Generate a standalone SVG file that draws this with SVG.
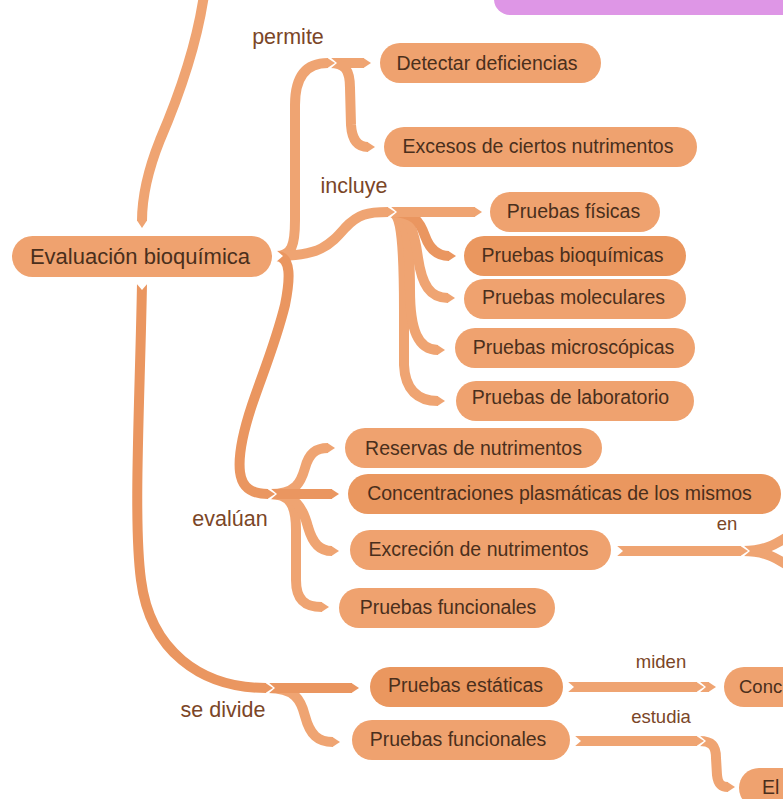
<svg xmlns="http://www.w3.org/2000/svg" width="783" height="799" viewBox="0 0 783 799">
<defs>
<style>
.c{fill:none;stroke:#EFA472;stroke-width:10;marker-end:url(#tl)}
.cd{fill:none;stroke:#EA9660;stroke-width:10;marker-end:url(#td)}
.n{fill:#EFA26F}
.nd{fill:#EA975F}
.t{font-family:"Liberation Sans",Arial,sans-serif;font-size:19.5px;fill:#4A2F1C;text-anchor:middle}
.l{font-family:"Liberation Sans",Arial,sans-serif;font-size:21.5px;fill:#7B4627;text-anchor:middle}
.ls{font-family:"Liberation Sans",Arial,sans-serif;font-size:18.5px;fill:#7B4627;text-anchor:middle}
.w{fill:#FFFFFF}
</style>
<marker id="tl" viewBox="-1 -6 9 12" markerWidth="9" markerHeight="12" refX="0" refY="0" markerUnits="userSpaceOnUse" orient="auto"><path d="M-0.6,-5 L7,0 L-0.6,5 Z" fill="#EFA472"/></marker>
<marker id="td" viewBox="-1 -6 9 12" markerWidth="9" markerHeight="12" refX="0" refY="0" markerUnits="userSpaceOnUse" orient="auto"><path d="M-0.6,-5 L7,0 L-0.6,5 Z" fill="#EA9660"/></marker>
</defs>
<g id="connectors">
<path class="c" d="M330,63 L364,63"/>
<path class="c" d="M330,63 C345,63 350,70 350,88 L351,125 C352,140 358,147 368,147"/>
<path class="c" d="M390,212 C402,212 404,250 404,310 L404,365 C405,390 418,401 438,401"/>
<path class="c" d="M390,212 C405,212 410,240 410,290 C410,330 418,350 438,350"/>
<path class="c" d="M390,212 C410,212 415,235 418,258 C422,285 430,298 448,298"/>
<path class="cd" d="M390,212 C415,212 420,222 425,236 C430,250 438,256 449,256"/>
<path class="c" d="M390,212 L475,212"/>
<path class="c" d="M270,494 C290,494 296,505 296,530 L296,580 C296,600 305,607 322,607"/>
<path class="c" d="M270,494 C296,494 303,508 308,527 C313,544 320,551 332,551"/>
<path class="c" d="M270,494 C296,494 301,482 305,468 C309,453 316,448 328,448"/>
<path class="cd" d="M270,494 L332,494"/>
<path class="c" d="M268,688 C295,688 301,700 305,716 C310,735 318,742 333,742"/>
<path class="cd" d="M268,688 L352,688"/>
<path fill="none" stroke="#EFA472" stroke-width="10" d="M743,551 C765,551 775,545 795,532"/>
<path fill="none" stroke="#EFA472" stroke-width="10" d="M743,551 C765,551 775,557 795,570"/>
<path class="c" d="M699,687 L709,687"/>
<path class="c" d="M699,741 C712,741 716,746 716,758 L717,775 C718,784 721,787 728,787"/>
<polygon class="w" points="330,57 337,63 330,69"/>
<polygon class="w" points="390,206 397,212 390,218"/>
<polygon class="w" points="270,488 277,494 270,500"/>
<polygon class="w" points="268,682 275,688 268,694"/>
<polygon class="w" points="743,545 750,551 743,557"/>
<polygon class="w" points="699,681 706,687 699,693"/>
<polygon class="w" points="699,735 706,741 699,747"/>
<path class="c" d="M276,256 C292,256 295,245 295,220 L295,105 C295,78 305,63 328,63"/>
<path class="c" d="M276,256 C320,256 330,245 345,228 C358,214 368,212 388,212"/>
<path class="cd" d="M276,256 C292,256 290,280 285,305 C275,345 262,375 252,405 C242,435 238,455 240,472 C242,488 252,494 268,494"/>
<path class="cd" d="M142,283 C140,400 133,520 141,580 C150,650 200,688 266,688"/>
<path class="c" d="M616,551 L741,551"/>
<path class="c" d="M567,687 L697,687"/>
<path class="c" d="M574,741 L697,741"/>
<path class="c" d="M204,-5 C196,50 175,105 160,140 C146,175 142,200 142,221"/>
<polygon class="w" points="276,250 283,256 276,262"/>
<polygon class="w" points="136,283 142,290 148,283"/>
<polygon class="w" points="616,545 623,551 616,557"/>
<polygon class="w" points="567,681 574,687 567,693"/>
<polygon class="w" points="574,735 581,741 574,747"/>
</g>
<g id="labels">
<text class="l" x="288" y="44">permite</text>
<text class="l" x="354" y="193">incluye</text>
<text class="l" x="230" y="526">evalúan</text>
<text class="l" x="223" y="717">se divide</text>
<text class="ls" x="727" y="530">en</text>
<text class="ls" x="661" y="668">miden</text>
<text class="ls" x="661" y="723">estudia</text>
</g>
<g id="n-top"><rect x="494" y="-30" width="320" height="45" rx="16" fill="#DE96E6"/></g>
<g id="n-eval"><rect class="n" x="12" y="236" width="260" height="41" rx="20.5"/><text class="t" style="font-size:22px" x="140" y="256" dy="0.35em">Evaluación bioquímica</text></g>
<g id="n-detectar"><rect class="n" x="380" y="43" width="221" height="40" rx="20"/><text class="t" x="487" y="63" dy="0.35em">Detectar deficiencias</text></g>
<g id="n-excesos"><rect class="n" x="384" y="127" width="313" height="40" rx="20"/><text class="t" x="538" y="146" dy="0.35em">Excesos de ciertos nutrimentos</text></g>
<g id="n-fisicas"><rect class="n" x="490" y="192" width="170" height="40" rx="20"/><text class="t" x="573.5" y="211" dy="0.35em">Pruebas físicas</text></g>
<g id="n-bioq"><rect class="nd" x="464" y="236" width="222" height="40" rx="20"/><text class="t" x="572.5" y="255" dy="0.35em">Pruebas bioquímicas</text></g>
<g id="n-molec"><rect class="n" x="464" y="279" width="222" height="40" rx="20"/><text class="t" x="573.5" y="297" dy="0.35em">Pruebas moleculares</text></g>
<g id="n-micro"><rect class="n" x="455" y="328" width="240" height="40" rx="20"/><text class="t" x="573.5" y="347" dy="0.35em">Pruebas microscópicas</text></g>
<g id="n-lab"><rect class="n" x="456" y="381" width="238" height="40" rx="20"/><text class="t" x="570.5" y="397" dy="0.35em">Pruebas de laboratorio</text></g>
<g id="n-reservas"><rect class="n" x="345" y="428" width="257" height="40" rx="20"/><text class="t" x="473.5" y="448" dy="0.35em">Reservas de nutrimentos</text></g>
<g id="n-concent"><rect class="nd" x="348" y="474" width="433" height="40" rx="20"/><text class="t" x="559.5" y="493" dy="0.35em">Concentraciones plasmáticas de los mismos</text></g>
<g id="n-excrecion"><rect class="n" x="350" y="530" width="261" height="40" rx="20"/><text class="t" x="478.5" y="549" dy="0.35em">Excreción de nutrimentos</text></g>
<g id="n-funcionales1"><rect class="n" x="339" y="588" width="216" height="40" rx="20"/><text class="t" x="448" y="607" dy="0.35em">Pruebas funcionales</text></g>
<g id="n-estaticas"><rect class="nd" x="370" y="667" width="193" height="40" rx="20"/><text class="t" x="465.5" y="685" dy="0.35em">Pruebas estáticas</text></g>
<g id="n-funcionales2"><rect class="n" x="352" y="720" width="218" height="40" rx="20"/><text class="t" x="458" y="739" dy="0.35em">Pruebas funcionales</text></g>
<g id="n-conc"><rect class="n" x="724" y="667" width="120" height="40" rx="20"/><text class="t" style="text-anchor:start;font-size:18.5px" x="739" y="687" dy="0.35em">Conc</text></g>
<g id="n-el"><rect class="n" x="739" y="768" width="100" height="40" rx="20"/><text class="t" style="text-anchor:start" x="762" y="787" dy="0.35em">El</text></g>
</svg>
